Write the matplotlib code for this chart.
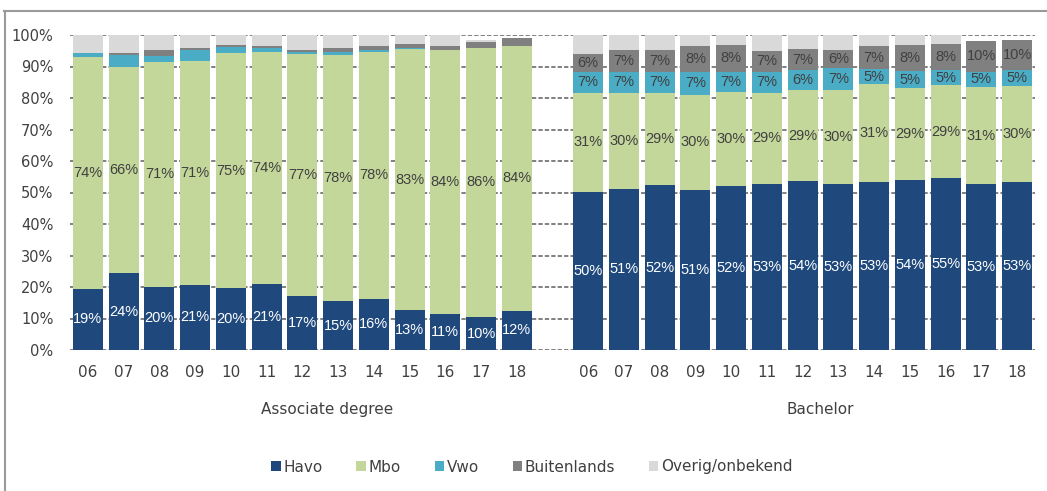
import matplotlib
matplotlib.use('Agg')
import matplotlib.pyplot as plt
from matplotlib.lines import Line2D
import numpy as np

years = ['06', '07', '08', '09', '10', '11', '12', '13', '14', '15', '16', '17', '18']
groups = ['Associate degree', 'Bachelor']
series = ['Havo', 'Mbo', 'Vwo', 'Buitenlands', 'Overig/onbekend']
colors = ['#1F497D', '#C4D79B', '#4BACC6', '#808080', '#D9D9D9']

# Associate degree (% of intake)
ad_havo = [19.4, 24.4, 20.1, 20.7, 19.6, 20.8, 17.0, 15.4, 16.3, 12.7, 11.3, 10.4, 12.4]
ad_mbo = [73.6, 65.6, 71.4, 70.9, 74.7, 73.9, 77.1, 78.1, 78.4, 82.7, 84.0, 85.6, 84.1]
ad_vwo = [1.3, 3.7, 1.8, 3.7, 1.9, 1.3, 0.5, 1.1, 0.6, 0.5, 0.0, 0.0, 0.0]
ad_buit = [0.0, 0.6, 1.9, 0.5, 0.5, 0.5, 0.7, 1.3, 1.2, 1.3, 1.2, 1.9, 2.6]
ad_overig = [5.7, 5.7, 4.8, 4.2, 3.3, 3.5, 4.7, 4.1, 3.5, 2.8, 3.5, 0.4, 0.0]

# Bachelor (% of intake)
ba_havo = [50.3, 51.2, 52.3, 50.8, 52.1, 52.7, 53.6, 52.7, 53.2, 54.0, 54.6, 52.7, 53.3]
ba_mbo = [31.4, 30.4, 29.4, 30.2, 29.7, 29.0, 28.9, 29.8, 31.2, 29.2, 29.4, 30.7, 30.4]
ba_vwo = [6.7, 6.8, 6.7, 7.4, 6.6, 6.7, 6.3, 7.0, 4.7, 5.3, 5.0, 5.0, 5.2]
ba_buit = [5.6, 6.8, 6.8, 8.1, 8.4, 6.6, 6.6, 5.7, 7.4, 8.4, 8.1, 9.6, 9.6]
ba_overig = [6.0, 4.8, 4.8, 3.5, 3.2, 5.0, 4.6, 4.8, 3.5, 3.1, 2.9, 0.0, 0.0]

ad_data = [ad_havo, ad_mbo, ad_vwo, ad_buit, ad_overig]
ba_data = [ba_havo, ba_mbo, ba_vwo, ba_buit, ba_overig]

plt.rcParams['font.family'] = ['DejaVu Sans']
TXT = '#404040'
label_font = ['Liberation Sans Narrow', 'Liberation Sans', 'DejaVu Sans']

fig = plt.figure(figsize=(10.47, 4.91), dpi=100)
ax = fig.add_axes([70 / 1047, 1 - 350 / 491, (1035 - 70) / 1047, 315 / 491])

n = len(years)
x_ad = np.arange(n)
x_ba = np.arange(n) + n + 1
width = 0.84

for xs, data, labelled in [(x_ad, ad_data, [0, 1]), (x_ba, ba_data, [0, 1, 2, 3])]:
    bottom = np.zeros(n)
    for i, vals in enumerate(data):
        vals = np.array(vals)
        bars = ax.bar(xs, vals, width, bottom=bottom, color=colors[i],
                      label=series[i] if xs is x_ad else None, zorder=3)
        if i in labelled:
            labs = [f'{v:.0f}%' if v > 0 else '' for v in vals]
            ax.bar_label(bars, labels=labs, label_type='center',
                         color='white' if i == 0 else TXT,
                         fontsize=10.5, family=label_font, zorder=4)
        bottom += vals

ax.set_xlim(-0.5, 2 * n + 0.5)
ax.set_ylim(0, 100)
ax.set_yticks(np.arange(0, 101, 10))
ax.set_yticklabels([f'{v}%' for v in range(0, 101, 10)], color=TXT, fontsize=10.5)
ax.set_xticks(np.concatenate([x_ad, x_ba]))
ax.set_xticklabels(years + years, color=TXT, fontsize=11)
ax.tick_params(axis='y', length=0, pad=12)
ax.tick_params(axis='x', length=0, pad=11)
for s in ax.spines.values():
    s.set_visible(False)
ax.yaxis.grid(True, color='#808080', linewidth=1.4, linestyle=(0, (2.2, 1.1)), zorder=0)
ax.set_axisbelow(True)

trans = ax.get_xaxis_transform()
ax.text(6.7, -0.19, groups[0], transform=trans, ha='center', va='center',
        color=TXT, fontsize=11)
ax.text(20.5, -0.19, groups[1], transform=trans, ha='center', va='center',
        color=TXT, fontsize=11)

fig.legend(loc='center', bbox_to_anchor=(532 / 1047, 1 - 467 / 491), ncol=5,
           frameon=False, handlelength=0.6, handleheight=0.6, handletextpad=0.2,
           columnspacing=2.2, fontsize=11, labelcolor=TXT)

# outer frame of the chart area
fig.add_artist(Line2D([4 / 1047, 1.0], [1 - 11 / 491, 1 - 11 / 491],
                      transform=fig.transFigure, color='#9a9a9a', lw=1.5))
fig.add_artist(Line2D([4.5 / 1047, 4.5 / 1047], [0, 1 - 11 / 491],
                      transform=fig.transFigure, color='#9a9a9a', lw=1.5))

fig.savefig('out.png', dpi=100)
